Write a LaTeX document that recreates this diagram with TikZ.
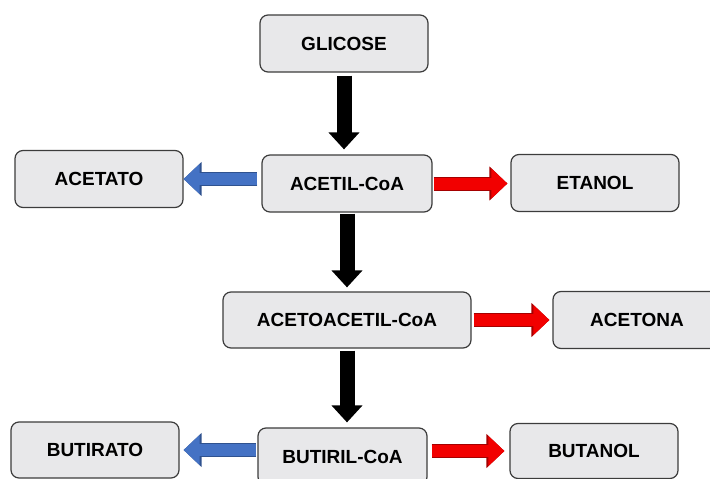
\documentclass[tikz,border=0pt]{standalone}
\usepackage{fontspec}
\setmainfont{Liberation Sans}
\usetikzlibrary{arrows.meta}

\begin{document}
\begin{tikzpicture}[x=1pt, y=-1pt]
    % Define colours
    \definecolor{boxFill}{HTML}{E8E8EA}
    \definecolor{boxBorder}{HTML}{3C3C3C}
    \definecolor{blueFill}{HTML}{4472C4}
    \definecolor{blueEdge}{HTML}{2F528F}
    \definecolor{redFill}{HTML}{F20000}
    \definecolor{redEdge}{HTML}{A50000}

    \tikzset{
        stage/.style={draw=boxBorder, fill=boxFill, line width=1.2pt, rounded corners=8pt,
            minimum width=168pt, minimum height=57pt, inner sep=0pt,
            font=\bfseries\fontsize{19}{22}\selectfont},
        mainflow/.style={draw=black, line width=15pt, -{Triangle[length=17pt, width=30pt]}},
        sideflow/.style={draw=#1Fill, line width=12pt, -{Triangle[length=16pt, width=29pt]},
            preaction={draw=#1Edge, line width=14pt, -{Triangle[length=18pt, width=33pt]}}},
    }

    % Fix the page size
    \useasboundingbox (0,0) rectangle (710,479);

    % Draw the stages
    \node[stage] (glicose) at (344,43.5) {GLICOSE};
    \node[stage, minimum width=170pt] (acetil) at (347,183.5) {ACETIL-CoA};
    \node[stage] (acetato) at (99,179) {ACETATO};
    \node[stage] (etanol) at (595,183) {ETANOL};
    \node[stage, minimum width=248pt, minimum height=56pt] (acetoacetil) at (347,320) {ACETOACETIL-CoA};
    \node[stage] (acetona) at (637,320) {ACETONA};
    \node[stage, minimum height=56pt] (butirato) at (95,450) {BUTIRATO};
    \node[stage, minimum width=169pt] (butiril) at (342.5,456.5) {BUTIRIL-CoA};
    \node[stage, minimum height=55pt] (butanol) at (594,451) {BUTANOL};

    % Draw the main pathway
    \draw[mainflow, shorten <=3pt, shorten >=5pt] (glicose.south) -- (glicose.south |- acetil.north);
    \draw[mainflow, shorten <=1pt, shorten >=4pt] (acetil.south) -- (acetil.south |- acetoacetil.north);
    \draw[mainflow, shorten <=2pt, shorten >=5pt] (acetoacetil.south) -- (acetoacetil.south |- butiril.north);

    % Draw the side products
    \draw[sideflow=blue, shorten <=4pt] (acetato.east -| acetil.west) -- (acetato.east);
    \draw[sideflow=red, shorten <=1pt, shorten >=3pt] (acetil.east) -- (acetil.east -| etanol.west);
    \draw[sideflow=red, shorten <=2pt, shorten >=3pt] (acetoacetil.east) -- (acetoacetil.east -| acetona.west);
    \draw[sideflow=blue, shorten <=1pt, shorten >=4pt] (butirato.east -| butiril.west) -- (butirato.east);
    \draw[sideflow=red, shorten <=4pt, shorten >=5pt] (butanol.west -| butiril.east) -- (butanol.west);

\end{tikzpicture}
\end{document}
